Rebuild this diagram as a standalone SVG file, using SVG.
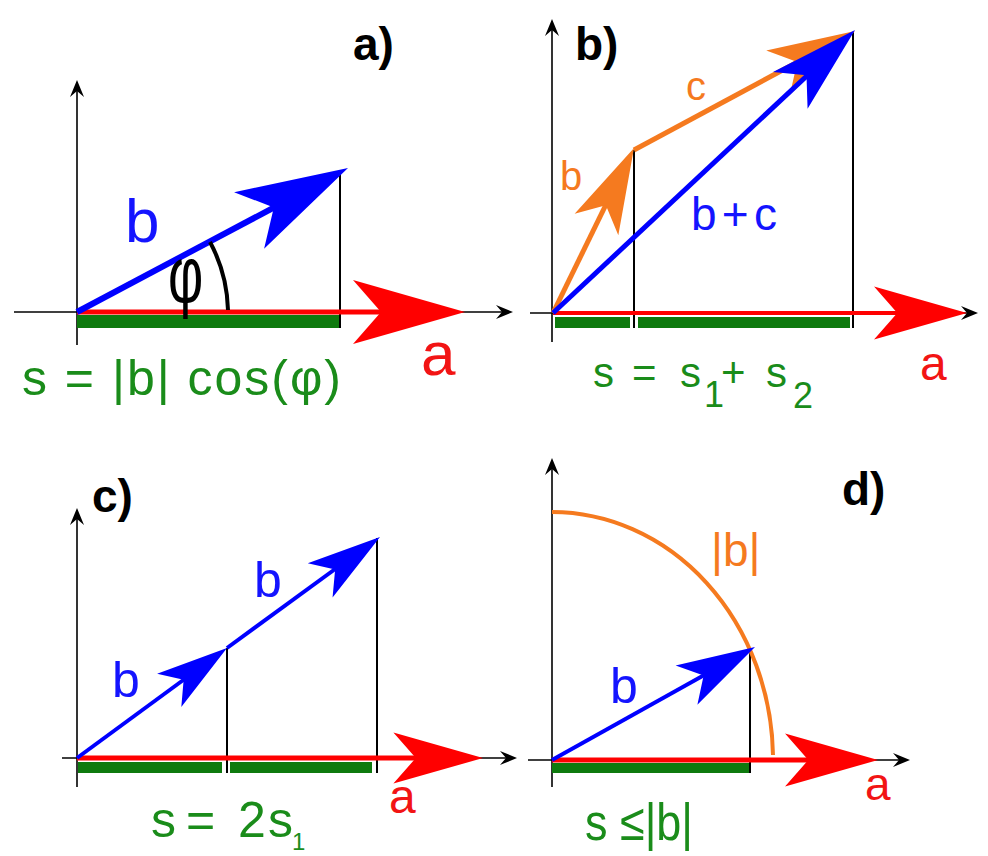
<svg xmlns="http://www.w3.org/2000/svg" xmlns:xlink="http://www.w3.org/1999/xlink" width="988" height="856" viewBox="0 0 988 856">
<defs>
<style>
.ax{stroke:#000;stroke-width:1.6;fill:none}
.vl{stroke:#000;stroke-width:2;fill:none}
.bar{fill:#0e7a0e}
.t{font-family:"Liberation Sans",Arial,sans-serif}
.ttl{font-family:"Liberation Sans",Arial,sans-serif;font-weight:bold;font-size:46px;fill:#000}
.gt{fill:#1a8c1a}
.rt{fill:#f21414}
.bt{fill:#1414ff}
.ot{fill:#f57a1f}
.red{stroke:#ff0000;fill:none}
.blue{stroke:#0000ff;fill:none}
.orange{stroke:#f57a1f;fill:none}
</style>
<path id="ah" d="M0,0 L-112,-32 L-84,0 L-112,32 Z"/>
<path id="axh" d="M0,0 L-17,-7 L-11,0 L-17,7 Z"/>
</defs>
<rect width="988" height="856" fill="#ffffff"/>

<g id="panel-a">
  <line class="ax" x1="77" y1="345" x2="77" y2="88"/>
  <use xlink:href="#axh" transform="translate(77,80) rotate(-90)" fill="#000"/>
  <line class="ax" x1="14" y1="312" x2="505" y2="312"/>
  <use xlink:href="#axh" transform="translate(513,312)" fill="#000"/>
  <rect class="bar" x="77" y="315" width="263" height="13"/>
  <line class="vl" x1="340" y1="170" x2="340" y2="328"/>
  <line class="red" stroke-width="5" x1="77" y1="312" x2="415" y2="312"/>
  <use xlink:href="#ah" transform="translate(465,312)" fill="#ff0000"/>
  <line class="blue" stroke-width="6" x1="77" y1="312" x2="304" y2="191.5"/>
  <use xlink:href="#ah" transform="translate(348,168) rotate(-27.98)" fill="#0000ff"/>
  <path d="M228,310 A151,151 0 0 0 210,242" stroke="#000" stroke-width="4" fill="none"/>
  <text class="t" x="168" y="302" font-size="80" fill="#000" transform="translate(168,0) scale(0.68,1) translate(-168,0)">φ</text>
  <text class="t bt" x="125" y="242" font-size="62">b</text>
  <text class="t rt" x="421" y="375" font-size="62">a</text>
  <text class="t gt" x="22" y="395" font-size="50" textLength="319" lengthAdjust="spacing">s = |b| cos(φ)</text>
  <text class="ttl" x="353" y="60">a)</text>
</g>

<g id="panel-b">
  <line class="ax" x1="552" y1="342" x2="552" y2="27"/>
  <use xlink:href="#axh" transform="translate(552,19) rotate(-90)" fill="#000"/>
  <line class="ax" x1="530" y1="313" x2="970" y2="313"/>
  <use xlink:href="#axh" transform="translate(978,313)" fill="#000"/>
  <rect class="bar" x="555" y="317" width="75" height="11"/>
  <rect class="bar" x="638" y="317" width="212" height="11"/>
  <line class="vl" x1="634" y1="150" x2="634" y2="328"/>
  <line class="vl" x1="853" y1="32" x2="853" y2="328"/>
  <line class="red" stroke-width="4" x1="553" y1="313" x2="926" y2="313"/>
  <use xlink:href="#ah" transform="translate(967,313) scale(0.83)" fill="#ff0000"/>
  <line class="orange" stroke-width="5" x1="553" y1="313" x2="617" y2="182"/>
  <use xlink:href="#ah" transform="translate(634,148) rotate(-63.85) scale(0.76)" fill="#f57a1f"/>
  <line class="orange" stroke-width="5" x1="634" y1="150" x2="820" y2="50"/>
  <use xlink:href="#ah" transform="translate(855,31) rotate(-28.3) scale(0.78)" fill="#f57a1f"/>
  <line class="blue" stroke-width="5" x1="553" y1="313" x2="826" y2="58"/>
  <use xlink:href="#ah" transform="translate(855,30) rotate(-43.04) scale(0.79)" fill="#0000ff"/>
  <text class="t ot" x="560" y="190" font-size="40">b</text>
  <text class="t ot" x="686" y="100" font-size="40">c</text>
  <text class="t bt" x="691" y="230" font-size="46" textLength="86" lengthAdjust="spacing">b+c</text>
  <text class="t rt" x="920" y="380" font-size="48">a</text>
  <g class="t gt" font-size="42">
    <text x="593" y="387">s</text>
    <text x="632" y="387">=</text>
    <text x="680" y="387">s</text>
    <text x="704" y="407" font-size="36">1</text>
    <text x="721" y="387">+</text>
    <text x="766" y="387">s</text>
    <text x="793" y="408" font-size="36">2</text>
  </g>
  <text class="ttl" x="575" y="60">b)</text>
</g>

<g id="panel-c">
  <line class="ax" x1="77" y1="787" x2="77" y2="516"/>
  <use xlink:href="#axh" transform="translate(77,508) rotate(-90)" fill="#000"/>
  <line class="ax" x1="62" y1="758" x2="509" y2="758"/>
  <use xlink:href="#axh" transform="translate(517,758)" fill="#000"/>
  <rect class="bar" x="78" y="762" width="144" height="11"/>
  <rect class="bar" x="230" y="762" width="142" height="11"/>
  <line class="vl" x1="227" y1="648" x2="227" y2="773"/>
  <line class="vl" x1="377" y1="538" x2="377" y2="773"/>
  <line class="red" stroke-width="5" x1="77" y1="758" x2="443" y2="758"/>
  <use xlink:href="#ah" transform="translate(483,758) scale(0.8)" fill="#ff0000"/>
  <line class="blue" stroke-width="4" x1="77" y1="758" x2="201" y2="667"/>
  <use xlink:href="#ah" transform="translate(227,648) rotate(-36.25) scale(0.64)" fill="#0000ff"/>
  <line class="blue" stroke-width="4" x1="227" y1="648" x2="353" y2="556"/>
  <use xlink:href="#ah" transform="translate(380,537) rotate(-35.96) scale(0.66)" fill="#0000ff"/>
  <text class="t bt" x="112" y="697" font-size="50">b</text>
  <text class="t bt" x="254" y="597" font-size="50">b</text>
  <text class="t rt" x="389" y="813" font-size="48">a</text>
  <g class="t gt" font-size="50">
    <text x="151" y="837">s</text>
    <text x="186" y="837">=</text>
    <text x="238" y="837">2</text>
    <text x="268" y="837">s</text>
    <text x="292" y="850" font-size="24">1</text>
  </g>
  <text class="ttl" x="92" y="512">c)</text>
</g>

<g id="panel-d">
  <line class="ax" x1="552" y1="787" x2="552" y2="466"/>
  <use xlink:href="#axh" transform="translate(552,458) rotate(-90)" fill="#000"/>
  <line class="ax" x1="528" y1="760" x2="902" y2="760"/>
  <use xlink:href="#axh" transform="translate(910,760)" fill="#000"/>
  <rect class="bar" x="552" y="763" width="198" height="10"/>
  <line class="vl" x1="750" y1="648" x2="750" y2="773"/>
  <path class="orange" stroke-width="4" d="M552,512 A221.5,248 0 0 1 773,755"/>
  <line class="red" stroke-width="5" x1="552" y1="760" x2="836" y2="760"/>
  <use xlink:href="#ah" transform="translate(878,760) scale(0.83)" fill="#ff0000"/>
  <line class="blue" stroke-width="4" x1="552" y1="760" x2="724" y2="664"/>
  <use xlink:href="#ah" transform="translate(755,647) rotate(-29.1) scale(0.7)" fill="#0000ff"/>
  <text class="t ot" x="711" y="566" font-size="46">|b|</text>
  <text class="t bt" x="610" y="703" font-size="50">b</text>
  <text class="t rt" x="865" y="800" font-size="46">a</text>
  <text class="t gt" x="585" y="840" font-size="52" textLength="108" lengthAdjust="spacingAndGlyphs">s ≤|b|</text>
  <text class="ttl" x="842" y="505">d)</text>
</g>
</svg>
